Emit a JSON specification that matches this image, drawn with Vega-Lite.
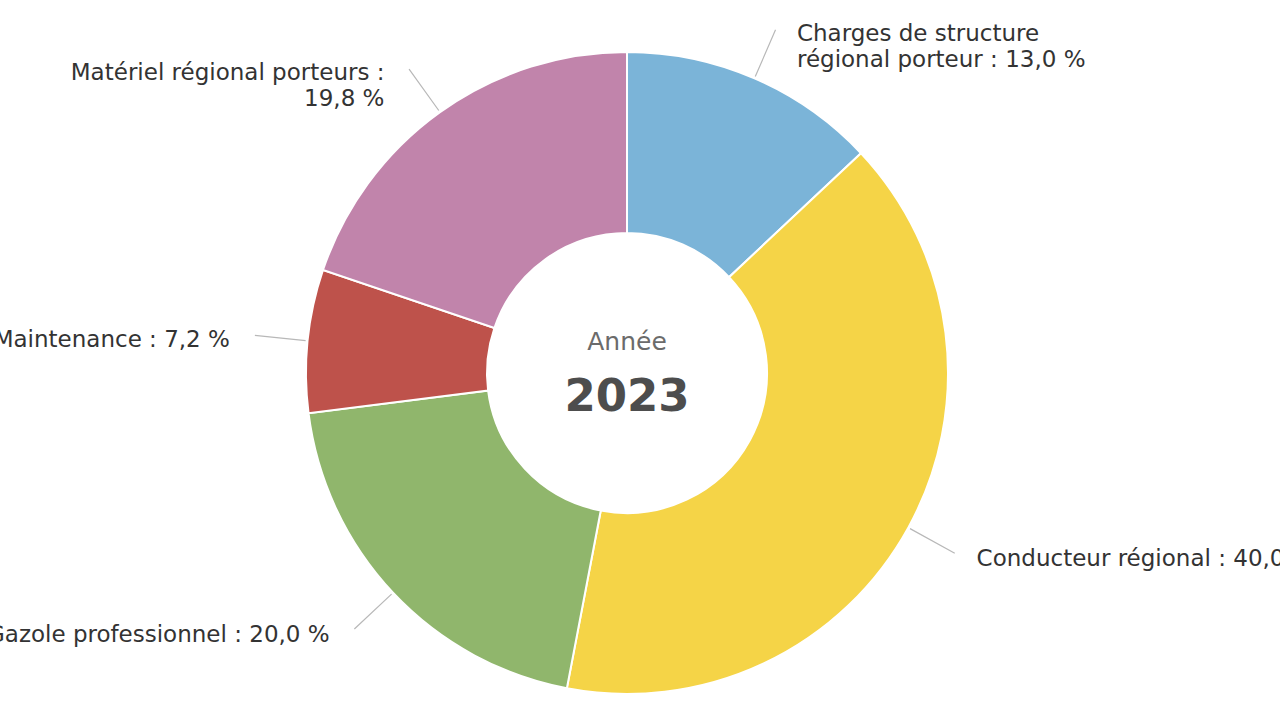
{
  "$schema": "https://vega.github.io/schema/vega-lite/v6.json",
  "width": 1254,
  "height": 694,
  "autosize": {"type": "none"},
  "padding": {"left": 0, "top": 26, "right": 26, "bottom": 0},
  "background": "white",
  "config": {"view": {"stroke": null}, "font": "DejaVu Sans"},
  "data": {
    "values": [
      {"cat": "Charges de structure régional porteur", "value": 13.0, "ord": 1, "label": "Charges de structure\nrégional porteur : 13,0 %"},
      {"cat": "Conducteur régional", "value": 40.0, "ord": 2, "label": "Conducteur régional : 40,0 %"},
      {"cat": "Gazole professionnel", "value": 20.0, "ord": 3, "label": "Gazole professionnel : 20,0 %"},
      {"cat": "Maintenance", "value": 7.2, "ord": 4, "label": "Maintenance : 7,2 %"},
      {"cat": "Matériel régional porteurs", "value": 19.8, "ord": 5, "label": "Matériel régional porteurs :\n19,8 %"}
    ]
  },
  "layer": [
    {
      "mark": {"type": "arc", "outerRadius": 321, "innerRadius": 140, "stroke": "white", "strokeWidth": 2},
      "encoding": {
        "theta": {"field": "value", "type": "quantitative", "stack": true},
        "color": {
          "field": "cat", "type": "nominal", "legend": null,
          "scale": {
            "domain": ["Charges de structure régional porteur", "Conducteur régional", "Gazole professionnel", "Maintenance", "Matériel régional porteurs"],
            "range": ["#7BB4D8", "#F5D447", "#90B66C", "#BE524B", "#C184AB"]
          }
        },
        "order": {"field": "ord", "type": "quantitative"}
      }
    },
    {
      "transform": [
        {"stack": "value", "groupby": [], "sort": [{"field": "ord", "order": "ascending"}], "as": ["v0", "v1"]}
      ],
      "mark": {
        "type": "arc",
        "theta": {"expr": "PI*(datum.v0+datum.v1)/100"},
        "theta2": {"expr": "PI*(datum.v0+datum.v1)/100"},
        "outerRadius": 374,
        "innerRadius": 323,
        "filled": false,
        "stroke": "#b8b8b8",
        "strokeWidth": 1.2
      },
      "encoding": {}
    },
    {
      "mark": {
        "type": "text",
        "radius": 375,
        "fontSize": 23,
        "lineHeight": 26,
        "color": "#333333",
        "baseline": "middle",
        "align": {"expr": "datum.value_start + datum.value_end > 100 ? 'right' : 'left'"},
        "dx": {"expr": "datum.value_start + datum.value_end > 100 ? -24 : 21"},
        "dy": 5,
        "lineBreak": "\n"
      },
      "encoding": {
        "theta": {"field": "value", "type": "quantitative", "stack": true},
        "detail": {"field": "cat", "type": "nominal"},
        "order": {"field": "ord", "type": "quantitative"},
        "text": {"field": "label", "type": "nominal"}
      }
    },
    {
      "data": {"values": [{"t": "Année"}]},
      "mark": {"type": "text", "fontSize": 25, "color": "#6b6b6b", "baseline": "middle", "align": "center", "dy": -31},
      "encoding": {"text": {"field": "t", "type": "nominal"}}
    },
    {
      "data": {"values": [{"t": "2023"}]},
      "mark": {"type": "text", "fontSize": 45, "fontWeight": "bold", "color": "#4d4d4d", "baseline": "middle", "align": "center", "dy": 24},
      "encoding": {"text": {"field": "t", "type": "nominal"}}
    }
  ]
}
